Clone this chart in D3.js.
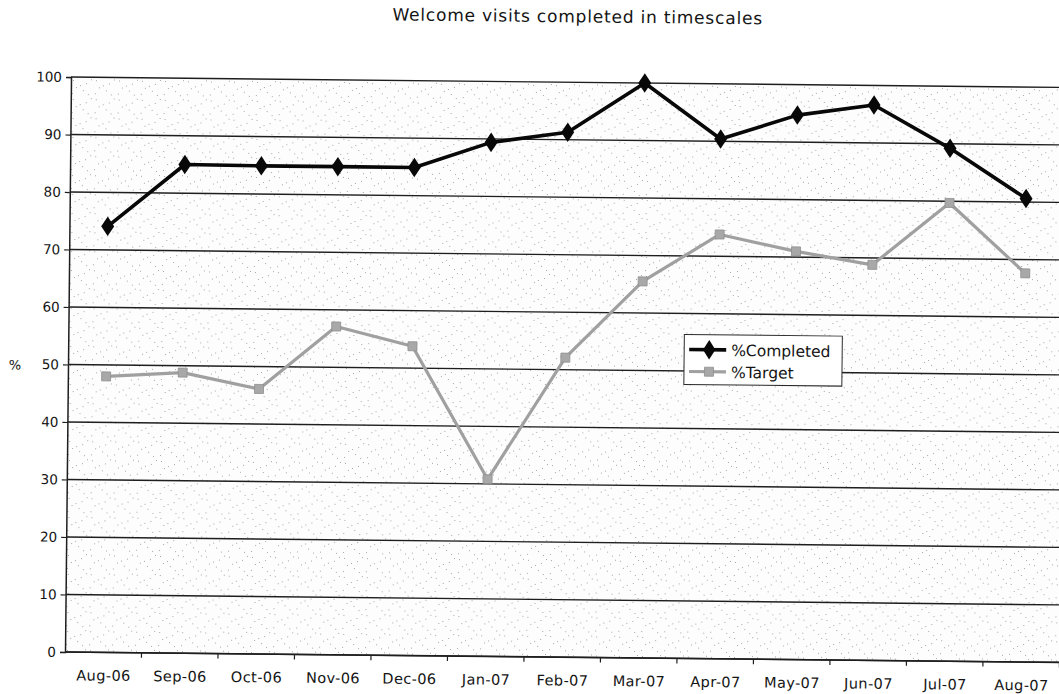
<!DOCTYPE html>
<html>
<head>
<meta charset="utf-8">
<script src="https://cdn.jsdelivr.net/npm/d3@7"></script>
<style>
  html, body { margin: 0; padding: 0; background: #fff; }
  svg { display: block; }
  text { font-family: "DejaVu Sans", Verdana, sans-serif; fill: #141414; }
</style>
</head>
<body>
<svg id="chart" width="1059" height="694"></svg>
<script>
// Monthly figures
const months = ["Aug-06", "Sep-06", "Oct-06", "Nov-06", "Dec-06", "Jan-07", "Feb-07",
                "Mar-07", "Apr-07", "May-07", "Jun-07", "Jul-07", "Aug-07"];
const completed = [74.1, 85.0, 84.9, 84.9, 84.9, 89.4, 91.3, 100, 90.4, 94.7, 96.6, 89.2, 80.6];
const target = [48.0, 48.8, 46.1, 57.1, 53.8, 30.8, 52.1, 65.5, 73.8, 71.0, 68.8, 79.7, 67.6];
const yTicks = [0, 10, 20, 30, 40, 50, 60, 70, 80, 90, 100];
const seriesNames = ["%Completed", "%Target"];

const svg = d3.select("#chart");
const margin = { left: 65, top: 77 };
const width = 994.5, height = 575;

// the printed page sits slightly askew
const root = svg.append("g")
  .attr("transform", `rotate(0.6, ${margin.left}, ${margin.top + height})`);

// stippled plot-area fill
const defs = svg.append("defs");
const pat = defs.append("pattern")
  .attr("id", "stipple").attr("patternUnits", "userSpaceOnUse")
  .attr("width", 23).attr("height", 19);
pat.append("rect").attr("width", 23).attr("height", 19).attr("fill", "#fdfdfd");
[[2,3],[15,6],[20,2],[5,10],[12,13],[1,16],[17,17],[9,8]]
  .forEach(([x, y]) => pat.append("rect").attr("x", x).attr("y", y)
    .attr("width", 1).attr("height", 1).attr("fill", "#a6a6a6"));

const x = d3.scalePoint().domain(months).range([0, width]).padding(0.5);
const y = d3.scaleLinear().domain([0, 100]).range([height, 0]);

const g = root.append("g").attr("transform", `translate(${margin.left},${margin.top})`);

g.append("rect").attr("width", width).attr("height", height).attr("fill", "url(#stipple)");

// horizontal gridlines
g.append("g").selectAll("line").data(yTicks).join("line")
  .attr("x1", 0).attr("x2", width)
  .attr("y1", d => y(d)).attr("y2", d => y(d))
  .attr("stroke", "#1e1e1e").attr("stroke-width", 1.4);

// y axis
const yAxis = g.append("g")
  .call(d3.axisLeft(y).tickValues(yTicks).tickSize(5).tickPadding(4));
yAxis.select(".domain").attr("stroke", "#1e1e1e").attr("stroke-width", 1.5);
yAxis.selectAll(".tick line").attr("stroke", "#1e1e1e").attr("stroke-width", 1.2);
yAxis.selectAll("text").style("font-size", "13.5px").attr("fill", "#141414")
  .style("font-family", "DejaVu Sans, sans-serif");

// x axis: labels centred on months, ticks between months
const xAxis = g.append("g").attr("transform", `translate(0,${height})`)
  .call(d3.axisBottom(x).tickSize(0).tickPadding(18));
xAxis.select(".domain").remove();
xAxis.selectAll("text").style("font-size", "14.5px").attr("fill", "#141414")
  .style("font-family", "DejaVu Sans, sans-serif").style("letter-spacing", "0.4px");
g.append("line").attr("x1", 0).attr("x2", width)
  .attr("y1", height).attr("y2", height)
  .attr("stroke", "#1e1e1e").attr("stroke-width", 1.6);
g.append("g").selectAll("line").data(d3.range(1, months.length + 1)).join("line")
  .attr("x1", i => i * x.step()).attr("x2", i => i * x.step())
  .attr("y1", height).attr("y2", height + 5)
  .attr("stroke", "#1e1e1e").attr("stroke-width", 1.2);

// axis title and chart title
root.append("text").attr("x", 12).attr("y", 370)
  .attr("text-anchor", "middle").style("font-size", "13px").text("%");
root.append("text").attr("x", 571).attr("y", 17)
  .attr("text-anchor", "middle").style("font-size", "17px")
  .style("letter-spacing", "0.8px")
  .text("Welcome visits completed in timescales");

const line = d3.line().x((d, i) => x(months[i])).y(d => y(d));

// %Target series
g.append("path").datum(target).attr("d", line)
  .attr("fill", "none").attr("stroke", "#a0a0a0").attr("stroke-width", 3.2)
  .attr("stroke-linejoin", "round");
g.append("g").selectAll("rect").data(target).join("rect")
  .attr("x", (d, i) => x(months[i]) - 4.5).attr("y", d => y(d) - 4.5)
  .attr("width", 9).attr("height", 9)
  .attr("fill", "#a8a8a8").attr("stroke", "#8e8e8e").attr("stroke-width", 0.8);

// %Completed series
const diamond = d3.symbol().type(d3.symbolDiamond).size(110);
g.append("path").datum(completed).attr("d", line)
  .attr("fill", "none").attr("stroke", "#080808").attr("stroke-width", 3.6)
  .attr("stroke-linejoin", "round");
g.append("g").selectAll("path").data(completed).join("path")
  .attr("d", diamond)
  .attr("transform", (d, i) => `translate(${x(months[i])},${y(d)}) scale(1.15,1)`)
  .attr("fill", "#080808");

// legend
const lg = root.append("g").attr("transform", "translate(681,328)");
lg.append("rect").attr("width", 158).attr("height", 50)
  .attr("fill", "#fff").attr("stroke", "#2a2a2a").attr("stroke-width", 1);
const entries = [
  { name: seriesNames[0], color: "#080808", sw: 3.6, mark: "diamond" },
  { name: seriesNames[1], color: "#a0a0a0", sw: 3.2, mark: "square" }
];
entries.forEach((e, i) => {
  const cy = 15 + i * 22;
  lg.append("line").attr("x1", 5).attr("x2", 42).attr("y1", cy).attr("y2", cy)
    .attr("stroke", e.color).attr("stroke-width", e.sw);
  if (e.mark === "diamond") {
    lg.append("path").attr("d", diamond)
      .attr("transform", `translate(25,${cy}) scale(1.1,1)`).attr("fill", e.color);
  } else {
    lg.append("rect").attr("x", 20.5).attr("y", cy - 4.5).attr("width", 9).attr("height", 9)
      .attr("fill", "#a8a8a8").attr("stroke", "#8e8e8e").attr("stroke-width", 0.8);
  }
  lg.append("text").attr("x", 47).attr("y", cy + 6)
    .style("font-size", "15.5px").text(e.name);
});
</script>
</body>
</html>
